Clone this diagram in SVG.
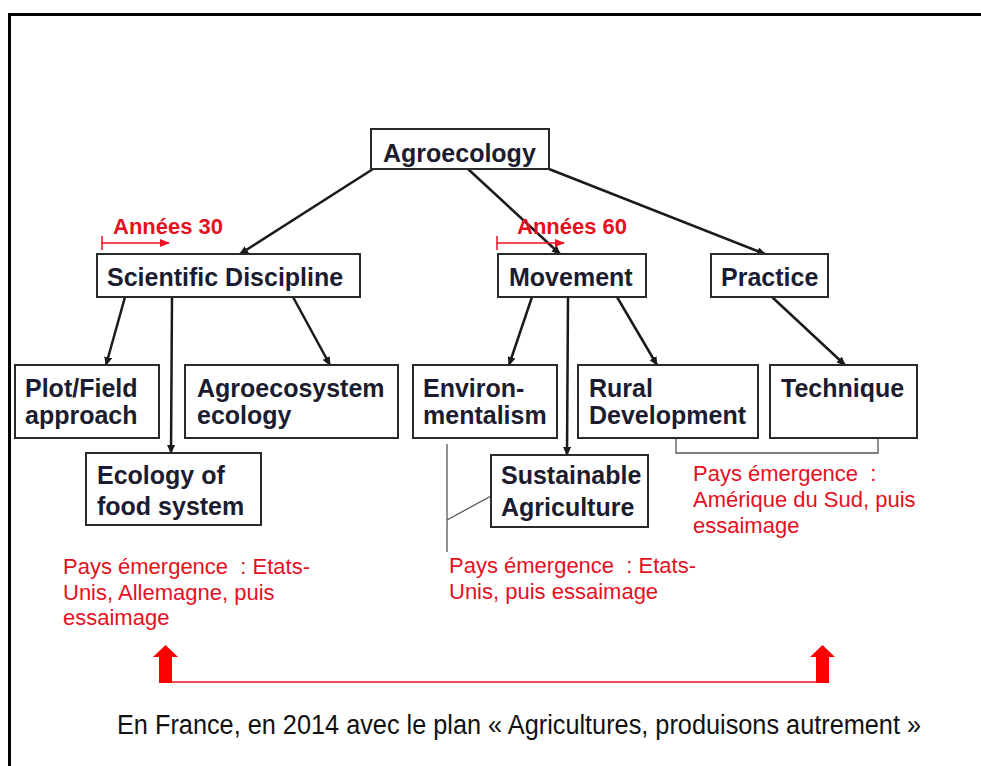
<svg xmlns="http://www.w3.org/2000/svg" width="981" height="766" viewBox="0 0 981 766">
  <defs>
    <marker id="ah" markerUnits="userSpaceOnUse" markerWidth="9" markerHeight="8" refX="8" refY="4" orient="auto">
      <path d="M0,0 L9,4 L0,8 z" fill="#1a1a1a"/>
    </marker>
    <marker id="rah" markerUnits="userSpaceOnUse" markerWidth="10" markerHeight="8" refX="9" refY="4" orient="auto">
      <path d="M0,0 L10,4 L0,8 z" fill="#ee1122"/>
    </marker>
    <style>
      .box { fill: #ffffff; stroke: #2a2a2a; stroke-width: 2; }
      .lbl { font-family: "Liberation Sans", Arial, sans-serif; font-weight: bold; font-size: 25px; fill: #1c1c30; }
      .red { font-family: "Liberation Sans", Arial, sans-serif; font-size: 22px; fill: #e5101e; }
      .redb { font-family: "Liberation Sans", Arial, sans-serif; font-weight: bold; font-size: 22px; fill: #e5101e; }
      .conn { stroke: #1a1a1a; stroke-width: 2.5; fill: none; marker-end: url(#ah); }
      .thin { stroke: #555555; stroke-width: 1.3; fill: none; }
      .rline { stroke: #ee1122; stroke-width: 1.5; fill: none; }
    </style>
  </defs>

  <rect x="0" y="0" width="981" height="766" fill="#ffffff"/>
  <path d="M9.5,766 V14.5 H981" fill="none" stroke="#000000" stroke-width="3"/>

  <g id="connectors">
    <line class="conn" x1="373" y1="169" x2="240" y2="254"/>
    <line class="conn" x1="468" y1="169" x2="560" y2="254"/>
    <line class="conn" x1="549" y1="169" x2="765" y2="254"/>
    <line class="conn" x1="125" y1="297" x2="106" y2="365"/>
    <line class="conn" x1="172" y1="297" x2="171" y2="453"/>
    <line class="conn" x1="293" y1="297" x2="330" y2="365"/>
    <line class="conn" x1="532" y1="297" x2="509" y2="365"/>
    <line class="conn" x1="568" y1="297" x2="567" y2="455"/>
    <line class="conn" x1="617" y1="297" x2="657" y2="365"/>
    <line class="conn" x1="772" y1="297" x2="845" y2="365"/>
    <path class="thin" d="M447,444 V552"/>
    <path class="thin" d="M447,520 L491,496"/>
    <path class="thin" d="M676,438 V453 H878 V438"/>
  </g>

  <g id="agroecology">
    <rect class="box" x="371" y="129" width="178" height="40"/>
    <text class="lbl" x="383" y="162">Agroecology</text>
  </g>

  <g id="annees30">
    <path class="rline" d="M102,236 V250"/>
    <line class="rline" x1="102" y1="243" x2="169" y2="243" marker-end="url(#rah)"/>
    <text class="redb" x="113" y="234">Années 30</text>
  </g>

  <g id="annees60">
    <path class="rline" d="M497,236 V250"/>
    <line class="rline" x1="497" y1="243" x2="564" y2="243" marker-end="url(#rah)"/>
    <text class="redb" x="517" y="234">Années 60</text>
  </g>

  <g id="scientific-discipline">
    <rect class="box" x="97" y="254" width="263" height="43"/>
    <text class="lbl" x="107" y="286">Scientific Discipline</text>
  </g>

  <g id="movement">
    <rect class="box" x="498" y="254" width="148" height="43"/>
    <text class="lbl" x="509" y="286">Movement</text>
  </g>

  <g id="practice">
    <rect class="box" x="711" y="254" width="117" height="43"/>
    <text class="lbl" x="721" y="286">Practice</text>
  </g>

  <g id="plot-field">
    <rect class="box" x="15" y="365" width="144" height="73"/>
    <text class="lbl" x="25" y="397">Plot/Field</text>
    <text class="lbl" x="25" y="424">approach</text>
  </g>

  <g id="agroecosystem">
    <rect class="box" x="185" y="365" width="213" height="73"/>
    <text class="lbl" x="197" y="397">Agroecosystem</text>
    <text class="lbl" x="197" y="424">ecology</text>
  </g>

  <g id="ecology-food">
    <rect class="box" x="86" y="453" width="175" height="72"/>
    <text class="lbl" x="97" y="484">Ecology of</text>
    <text class="lbl" x="97" y="515">food system</text>
  </g>

  <g id="environmentalism">
    <rect class="box" x="413" y="365" width="144" height="73"/>
    <text class="lbl" x="423" y="397">Environ-</text>
    <text class="lbl" x="423" y="424">mentalism</text>
  </g>

  <g id="rural-development">
    <rect class="box" x="578" y="365" width="180" height="73"/>
    <text class="lbl" x="589" y="397">Rural</text>
    <text class="lbl" x="589" y="424">Development</text>
  </g>

  <g id="technique">
    <rect class="box" x="770" y="365" width="147" height="73"/>
    <text class="lbl" x="781" y="397">Technique</text>
  </g>

  <g id="sustainable-agriculture">
    <rect class="box" x="491" y="455" width="157" height="72"/>
    <text class="lbl" x="501" y="484">Sustainable</text>
    <text class="lbl" x="501" y="516">Agriculture</text>
  </g>

  <g id="note-south-america">
    <text class="red" x="693" y="481" xml:space="preserve">Pays émergence  :</text>
    <text class="red" x="693" y="507">Amérique du Sud, puis</text>
    <text class="red" x="693" y="533">essaimage</text>
  </g>

  <g id="note-us-germany">
    <text class="red" x="63" y="574" xml:space="preserve">Pays émergence  : Etats-</text>
    <text class="red" x="63" y="600">Unis, Allemagne, puis</text>
    <text class="red" x="63" y="625">essaimage</text>
  </g>

  <g id="note-us">
    <text class="red" x="449" y="573" xml:space="preserve">Pays émergence  : Etats-</text>
    <text class="red" x="449" y="599">Unis, puis essaimage</text>
  </g>

  <g id="france-arrows">
    <line x1="166" y1="682" x2="823" y2="682" stroke="#ee1122" stroke-width="1.6"/>
    <path d="M159,683 V657 H153 L165.5,645 L178,657 H172 V683 z" fill="#ff0000"/>
    <path d="M816,683 V657 H810 L822.5,645 L835,657 H829 V683 z" fill="#ff0000"/>
  </g>

  <g id="france-note">
    <text x="117" y="734" textLength="804" lengthAdjust="spacingAndGlyphs" style="font-family: 'Liberation Sans', Arial, sans-serif; font-size: 27px; fill: #111111;">En France, en 2014 avec le plan « Agricultures, produisons autrement »</text>
  </g>
</svg>
